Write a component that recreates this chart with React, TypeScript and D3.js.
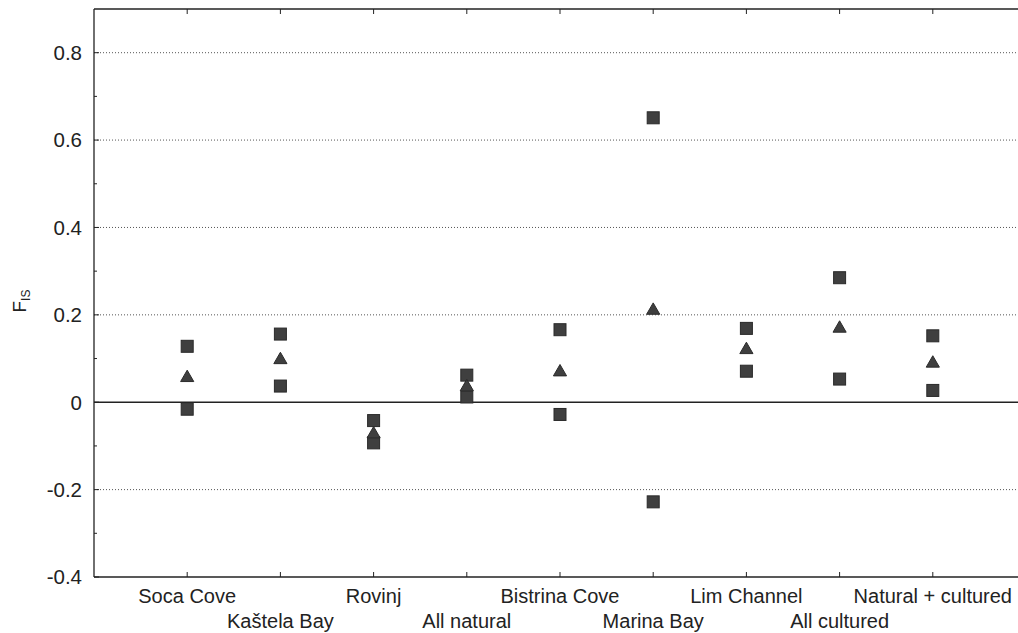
import React from "react";
import * as d3 from "d3";

const categories = [
  "Soca Cove",
  "Kaštela Bay",
  "Rovinj",
  "All natural",
  "Bistrina Cove",
  "Marina Bay",
  "Lim Channel",
  "All cultured",
  "Natural + cultured",
];
const upperValues = [0.128, 0.156, -0.042, 0.062, 0.166, 0.651, 0.169, 0.285, 0.152];
const meanValues = [0.056, 0.097, -0.073, 0.035, 0.069, 0.21, 0.12, 0.169, 0.089];
const lowerValues = [-0.016, 0.037, -0.093, 0.012, -0.028, -0.228, 0.071, 0.053, 0.027];
const yTicks = [-0.4, -0.2, 0, 0.2, 0.4, 0.6, 0.8];
const yMinorTicks = [-0.3, -0.1, 0.1, 0.3, 0.5, 0.7];

const W = 1018;
const H = 633;
const left = 94;
const top = 9;
const bottom = 577;

export default function App() {
  const x = d3.scaleLinear().domain([0, 10]).range([left, left + 93.2 * 10]);
  const y = d3.scaleLinear().domain([-0.4, 0.9]).range([bottom, top]);
  const right = x(10);
  const sq = 12;
  const tri = d3.symbol().type(d3.symbolTriangle).size(75)();
  const markFill = "#3f3f3f";
  const markStroke = "#2a2a2a";
  const font = "'Liberation Sans', Arial, sans-serif";
  const fmt = (t: number) => (t === 0 ? "0" : d3.format(".1f")(t).replace("−", "-"));

  return (
    <svg
      width={W}
      height={H}
      style={{ position: "absolute", left: 0, top: 0, background: "#fff", overflow: "hidden" }}
    >
      <rect x={0} y={0} width={W} height={H} fill="#fff" />
      {/* grid lines */}
      {yTicks
        .filter((t) => t !== 0 && t !== -0.4)
        .map((t) => (
          <line
            key={"g" + t}
            x1={left}
            x2={right}
            y1={y(t)}
            y2={y(t)}
            stroke="#555"
            strokeWidth={1}
            strokeDasharray="1,2"
          />
        ))}
      {/* zero line */}
      <line x1={left} x2={right} y1={y(0)} y2={y(0)} stroke="#222" strokeWidth={1.3} />
      {/* frame */}
      <line x1={left} x2={right} y1={top} y2={top} stroke="#222" strokeWidth={1.3} />
      <line x1={left} x2={right} y1={bottom} y2={bottom} stroke="#222" strokeWidth={1.3} />
      <line x1={left} x2={left} y1={top} y2={bottom} stroke="#222" strokeWidth={1.3} />
      {/* y ticks */}
      {yTicks.map((t) => (
        <g key={"yt" + t}>
          <line x1={left} x2={left + 5} y1={y(t)} y2={y(t)} stroke="#222" />
          <text
            x={82}
            y={y(t)}
            dy="0.36em"
            textAnchor="end"
            fontFamily={font}
            fontSize={20.5}
            fill="#222"
          >
            {fmt(t)}
          </text>
        </g>
      ))}
      {yMinorTicks.map((t) => (
        <line key={"ym" + t} x1={left} x2={left + 3} y1={y(t)} y2={y(t)} stroke="#222" />
      ))}
      {/* x ticks */}
      {categories.map((c, i) => (
        <g key={"xt" + i}>
          <line x1={x(i + 1)} x2={x(i + 1)} y1={bottom} y2={bottom - 5} stroke="#222" />
          <line x1={x(i + 1)} x2={x(i + 1)} y1={top} y2={top + 5} stroke="#222" />
          <text
            x={x(i + 1)}
            y={i % 2 === 0 ? 603 : 628}
            textAnchor="middle"
            fontFamily={font}
            fontSize={20}
            fill="#222"
          >
            {c}
          </text>
        </g>
      ))}
      {/* y label */}
      <text
        transform={`translate(26, 301) rotate(-90)`}
        textAnchor="middle"
        fontFamily={font}
        fontSize={19}
        fill="#222"
      >
        F
        <tspan fontSize={12} dy="4">IS</tspan>
      </text>
      {/* markers */}
      {upperValues.map((v, i) => (
        <rect
          key={"u" + i}
          x={x(i + 1) - sq / 2}
          y={y(v) - sq / 2}
          width={sq}
          height={sq}
          fill={markFill}
          stroke={markStroke}
          strokeWidth={1}
        />
      ))}
      {lowerValues.map((v, i) => (
        <rect
          key={"l" + i}
          x={x(i + 1) - sq / 2}
          y={y(v) - sq / 2}
          width={sq}
          height={sq}
          fill={markFill}
          stroke={markStroke}
          strokeWidth={1}
        />
      ))}
      {meanValues.map((v, i) => (
        <path
          key={"m" + i}
          d={tri || ""}
          transform={`translate(${x(i + 1)}, ${y(v)})`}
          fill={markFill}
          stroke={markStroke}
          strokeWidth={1}
        />
      ))}
    </svg>
  );
}
